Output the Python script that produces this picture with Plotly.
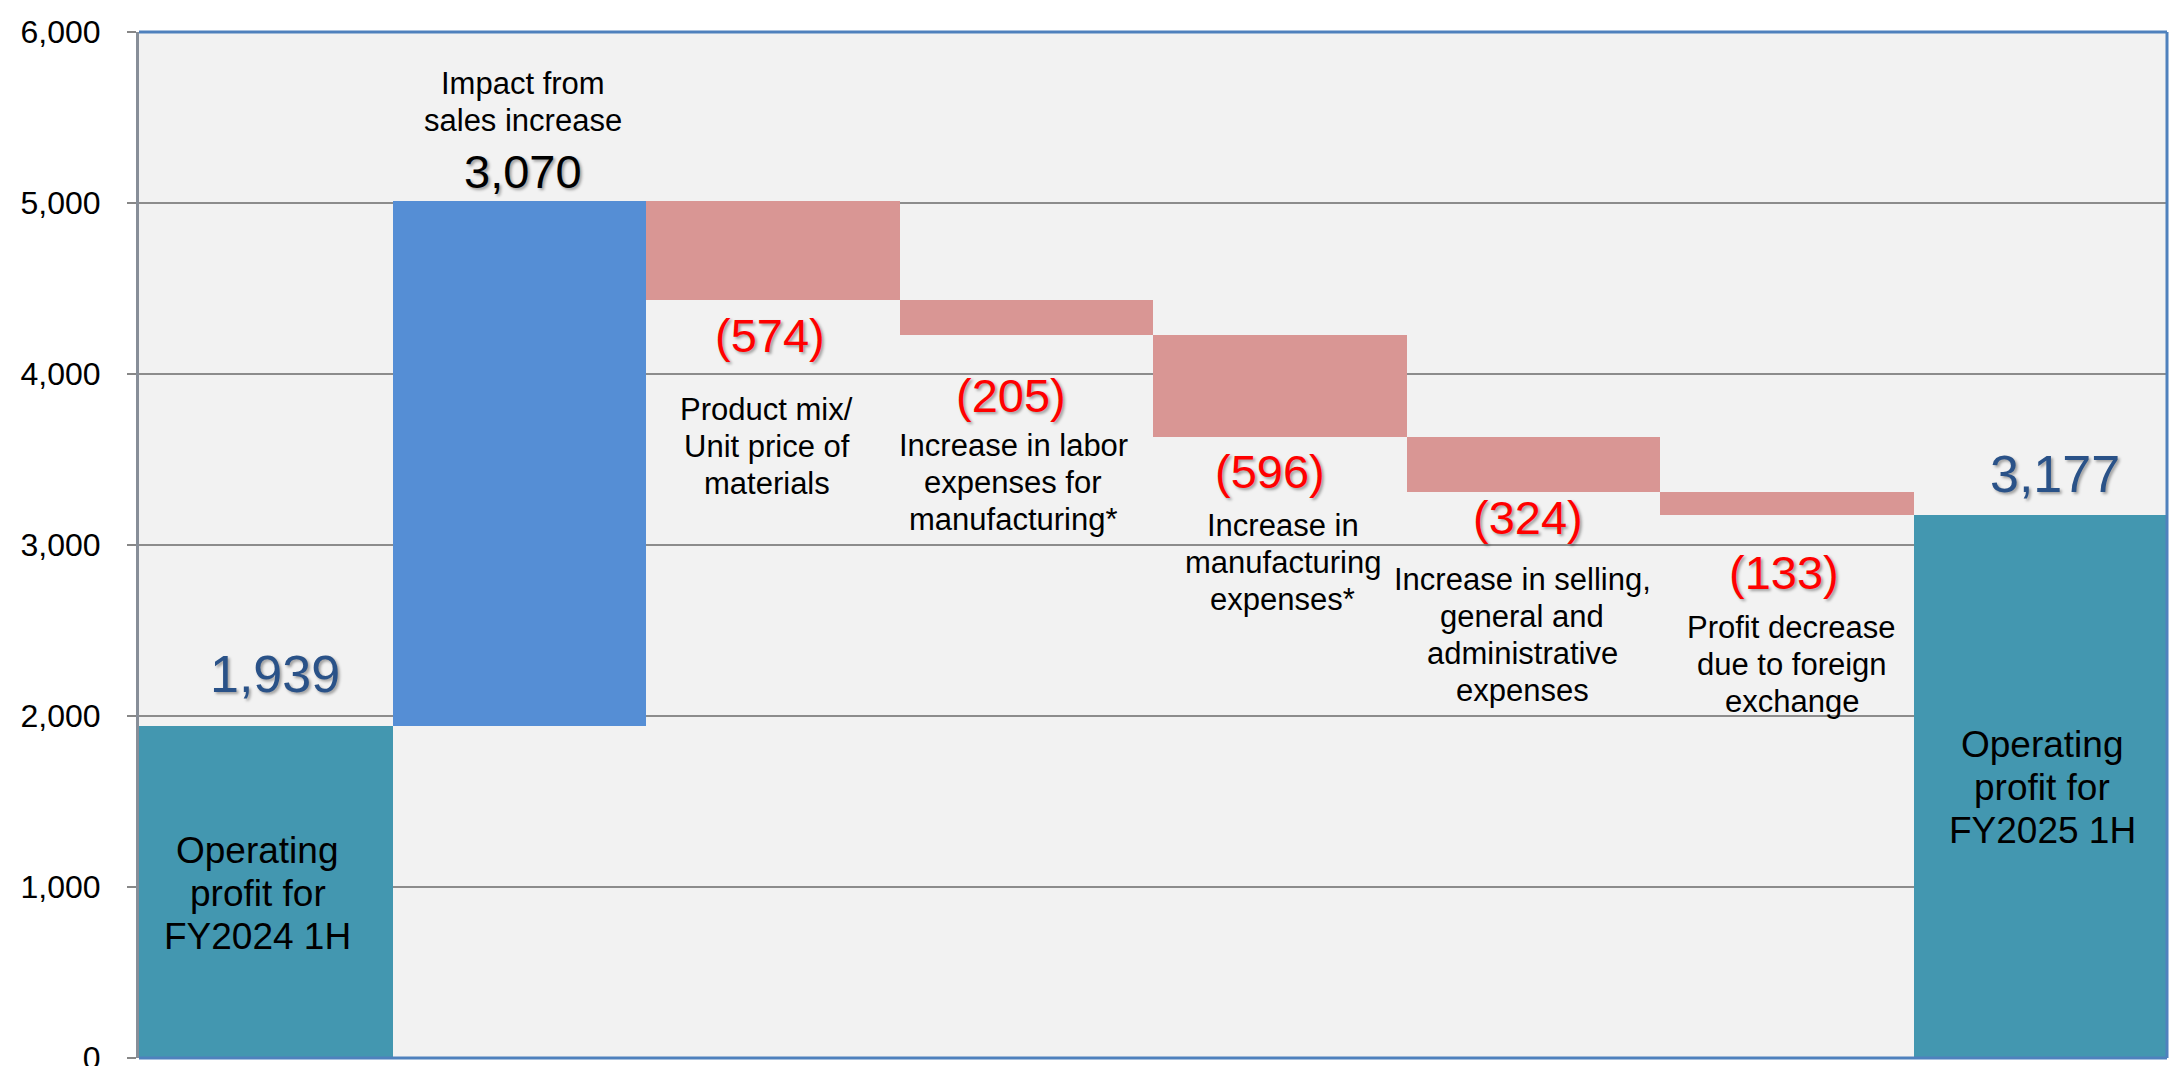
import plotly.graph_objects as go

# ---------------- data ----------------
STEP_NAMES = [
    "Operating profit for FY2024 1H",
    "Impact from sales increase",
    "Product mix/Unit price of materials",
    "Increase in labor expenses for manufacturing*",
    "Increase in manufacturing expenses*",
    "Increase in selling, general and administrative expenses",
    "Profit decrease due to foreign exchange",
    "Operating profit for FY2025 1H",
]
STEP_MEASURES = ["absolute", "relative", "relative", "relative",
                 "relative", "relative", "relative", "total"]
STEP_VALUES = [1939, 3070, -574, -205, -596, -324, -133, 3177]
STEP_LINES = [
    ["Operating", "profit for", "FY2024 1H"],
    ["Impact from", "sales increase"],
    ["Product mix/", "Unit price of", "materials"],
    ["Increase in labor", "expenses for", "manufacturing*"],
    ["Increase in", "manufacturing", "expenses*"],
    ["Increase in selling,", "general and", "administrative", "expenses"],
    ["Profit decrease", "due to foreign", "exchange"],
    ["Operating", "profit for", "FY2025 1H"],
]
Y_TICKS = [0, 1000, 2000, 3000, 4000, 5000, 6000]
Y_TICK_TEXT = ["0", "1,000", "2,000", "3,000", "4,000", "5,000", "6,000"]

# ---------------- styling ----------------
FONT = "Arial, 'Liberation Sans', sans-serif"
C_TOTAL = "#4397B0"
C_UP = "#558ED5"
C_DOWN = "#D99694"
C_TOTAL_TXT = "#2A5288"
C_UP_TXT = "#000000"
C_DOWN_TXT = "#FF0000"
SHADOW = "2px 2px 3px rgba(0,0,0,0.35)"

# pixel offsets for value labels (xshift, yshift from bar end)
VALUE_SHIFTS = [(9, 52), (4, 30), (-3, -36), (-15, -61),
                (-10, -35), (-5, -26), (-3, -58), (15, 41)]
# pixel offsets for description blocks (xshift, first-line yshift)
DESC_SHIFTS = [(-8, 42), (4, 117.5), (-6, -110), (-13, -111),
               (3, -89), (-11, -88), (5, -113), (2, 42)]
DESC_GAP = 37
TOTAL_DESC_GAP = 43

fig = go.Figure()
fig.add_trace(go.Waterfall(
    x=STEP_NAMES,
    y=STEP_VALUES,
    measure=STEP_MEASURES,
    increasing=dict(marker=dict(color=C_UP, line=dict(width=0))),
    decreasing=dict(marker=dict(color=C_DOWN, line=dict(width=0))),
    totals=dict(marker=dict(color=C_TOTAL, line=dict(width=0))),
    connector=dict(visible=False),
    hoverinfo="skip",
    showlegend=False,
))

# running bar extents
ends = []
run = 0
for m, v in zip(STEP_MEASURES, STEP_VALUES):
    if m == "absolute":
        run = v
    elif m == "relative":
        run += v
    ends.append(run)


def fmt(v):
    s = f"{abs(v):,}"
    return f"({s})" if v < 0 else s


annotations = []
for i, (name, m, v) in enumerate(zip(STEP_NAMES, STEP_MEASURES, STEP_VALUES)):
    is_total = m != "relative"
    # value label
    if is_total:
        col, size = C_TOTAL_TXT, 52
    elif v >= 0:
        col, size = C_UP_TXT, 47
    else:
        col, size = C_DOWN_TXT, 47
    xs, ys = VALUE_SHIFTS[i]
    annotations.append(dict(
        x=name, y=ends[i], xref="x", yref="y", text=fmt(v if m != "total" else ends[i]),
        showarrow=False, xanchor="center", yanchor="middle",
        xshift=xs, yshift=ys,
        font=dict(family=FONT, size=size, color=col, shadow=SHADOW),
    ))
    # description lines
    dx, dy = DESC_SHIFTS[i]
    if is_total:
        anchor_y = ends[i] / 2
        gap, dsize = TOTAL_DESC_GAP, 37
    else:
        anchor_y = ends[i]
        gap, dsize = DESC_GAP, 31
    for k, line in enumerate(STEP_LINES[i]):
        annotations.append(dict(
            x=name, y=anchor_y, xref="x", yref="y", text=line,
            showarrow=False, xanchor="center", yanchor="middle",
            xshift=dx, yshift=dy - k * gap,
            font=dict(family=FONT, size=dsize, color="#000000"),
        ))

frame = "#4F81BD"
shapes = [
    dict(type="line", xref="paper", yref="paper", x0=0, x1=1, y0=1, y1=1,
         line=dict(color=frame, width=3), layer="above"),
    dict(type="line", xref="paper", yref="paper", x0=1, x1=1, y0=0, y1=1,
         line=dict(color=frame, width=3), layer="above"),
    dict(type="line", xref="paper", yref="paper", x0=0, x1=1, y0=0, y1=0,
         line=dict(color=frame, width=3), layer="above"),
]

fig.update_layout(
    width=2177, height=1066,
    margin=dict(l=139, r=10, t=32, b=8, pad=0, autoexpand=False),
    paper_bgcolor="#FFFFFF",
    plot_bgcolor="#F2F2F2",
    waterfallgap=0,
    font=dict(family=FONT, color="#000000"),
    annotations=annotations,
    shapes=shapes,
    xaxis=dict(
        type="category", range=[-0.5, 7.5], showticklabels=False,
        showgrid=False, zeroline=False, showline=False, ticks="",
        automargin=False,
    ),
    yaxis=dict(
        range=[0, 6000], tickvals=Y_TICKS, ticktext=Y_TICK_TEXT,
        tickfont=dict(family=FONT, size=32, color="#000000"),
        ticks="outside", ticklen=9, tickwidth=2, tickcolor="#878787",
        ticklabelstandoff=20, ticklabeloverflow="allow",
        showgrid=True, gridcolor="#8C8C8C", gridwidth=2,
        zeroline=False, showline=True, linecolor="#878E98", linewidth=3,
        automargin=False,
    ),
)

fig.write_html("out.html")
